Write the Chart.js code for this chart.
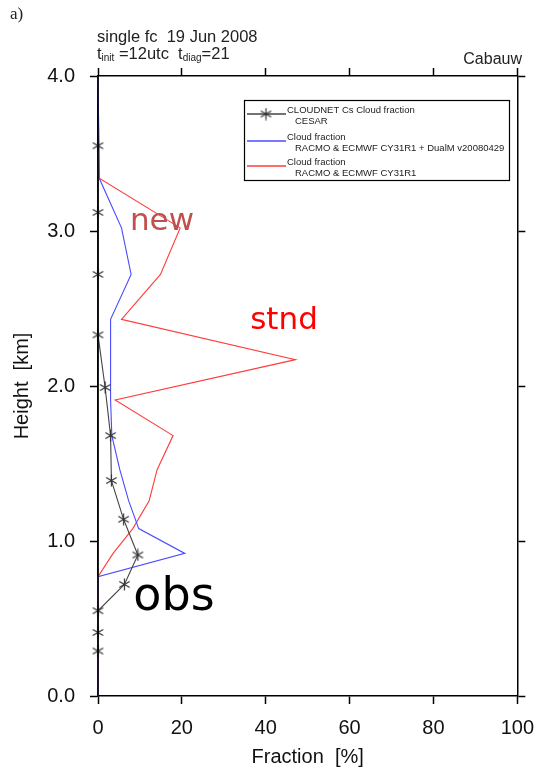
<!DOCTYPE html>
<html>
<head>
<meta charset="utf-8">
<script src="https://cdn.jsdelivr.net/npm/chart.js@4"></script>
<style>
  body { margin: 0; background: #fff; }
  canvas { display: block; }
</style>
</head>
<body>
<canvas id="cloudChart" width="546" height="772"></canvas>
<script>
// Observed cloud fraction (CLOUDNET, Cabauw)
const obsHeight = [0.29, 0.41, 0.55, 0.72, 0.91, 1.14, 1.39, 1.68, 1.99, 2.33, 2.72, 3.12, 3.55];
const obsFraction = [0, 0, 0, 6.3, 9.5, 6.1, 3.2, 3.0, 1.7, 0, 0, 0, 0];

// Model levels used by both RACMO runs
const modelHeight = [0, 0.77, 0.92, 1.08, 1.26, 1.46, 1.68, 1.91, 2.17, 2.43, 2.72, 3.02, 3.34, 4.0];
const newFraction = [0, 0, 20.7, 9.7, 7.3, 5.2, 3.3, 3.0, 3.0, 3.0, 7.9, 5.6, 0.3, 0];
const stndFraction = [0, 0, 3.6, 8.3, 12.2, 14.1, 17.9, 4.1, 47.1, 5.6, 14.9, 19.6, 0.3, 0];

const xTicks = [0, 20, 40, 60, 80, 100];
const yTicks = [0, 1, 2, 3, 4];

const legendLines = [
    ['CLOUDNET Cs Cloud fraction', 'CESAR'],
    ['Cloud fraction', 'RACMO & ECMWF CY31R1 + DualM v20080429'],
    ['Cloud fraction', 'RACMO & ECMWF CY31R1']
];

function toPoints(xs, ys) {
    return xs.map((x, i) => ({ x: x, y: ys[i] }));
}

// asterisk marker, vertical arm plus two diagonals
function makeStar(color) {
    const c = document.createElement('canvas');
    c.width = 13;
    c.height = 13;
    const g = c.getContext('2d');
    g.strokeStyle = color;
    g.lineWidth = 1.2;
    g.beginPath();
    g.moveTo(6.5, 0.5); g.lineTo(6.5, 12.5);
    g.moveTo(1.3, 3.5); g.lineTo(11.7, 9.5);
    g.moveTo(11.7, 3.5); g.lineTo(1.3, 9.5);
    g.stroke();
    return c;
}
const starMarker = makeStar('#333');

const sansFont = '"Liberation Sans", Arial, Helvetica, sans-serif';

const textPlugin = {
    id: 'textPlugin',
    afterDatasetsDraw(chart) {
        // keep the left axis black over the lines that sit on x = 0
        const a = chart.chartArea;
        const c = chart.ctx;
        c.save();
        c.strokeStyle = '#000';
        c.lineWidth = 1.5;
        c.beginPath();
        c.moveTo(a.left, a.top);
        c.lineTo(a.left, a.bottom);
        c.stroke();
        c.restore();
    },
    afterDraw(chart) {
        const ctx = chart.ctx;
        const ds = chart.data.datasets;
        ctx.save();

        // panel label
        ctx.fillStyle = '#222';
        ctx.textBaseline = 'middle';
        ctx.textAlign = 'left';
        ctx.font = '17px "Liberation Serif", "DejaVu Serif", serif';
        ctx.fillText('a)', 10, 15);

        // header
        ctx.font = '16.5px ' + sansFont;
        ctx.fillText('single fc  19 Jun 2008', 97, 37);

        let x = 97;
        const parts = [
            ['t', 16.5, 0], ['init', 10, 4], [' =12utc  ', 16.5, 0],
            ['t', 16.5, 0], ['diag', 10, 4], ['=21', 16.5, 0]
        ];
        parts.forEach(p => {
            ctx.font = p[1] + 'px ' + sansFont;
            ctx.fillText(p[0], x, 54 + p[2]);
            x += ctx.measureText(p[0]).width;
        });

        ctx.textAlign = 'right';
        ctx.font = '16px ' + sansFont;
        ctx.fillText('Cabauw', 522, 60);

        // legend box
        ctx.strokeStyle = '#000';
        ctx.lineWidth = 1.2;
        ctx.strokeRect(244.5, 100.5, 265, 80);
        const rowY = [114, 141, 166];
        ctx.textAlign = 'left';
        ctx.font = '9.5px ' + sansFont;
        rowY.forEach((y, i) => {
            const d = ds[i];
            ctx.strokeStyle = d.borderColor;
            ctx.lineWidth = 1.3;
            ctx.beginPath();
            ctx.moveTo(247, y);
            ctx.lineTo(286, y);
            ctx.stroke();
            if (d.pointStyle instanceof HTMLCanvasElement) {
                ctx.drawImage(d.pointStyle, 266 - 6.5, y - 6.5);
            }
            ctx.fillStyle = '#222';
            ctx.fillText(legendLines[i][0], 287, y - 4);
            ctx.fillText(legendLines[i][1], 295, y + 7);
        });

        // annotations
        ctx.textAlign = 'center';
        ctx.font = '31px "DejaVu Sans", Verdana, sans-serif';
        ctx.fillStyle = 'rgb(192, 80, 77)';
        ctx.fillText('new', 162, 222);
        ctx.fillStyle = '#ff0000';
        ctx.fillText('stnd', 284, 321);
        ctx.font = '46px "DejaVu Sans", Verdana, sans-serif';
        ctx.fillStyle = '#000';
        ctx.fillText('obs', 174, 598);

        ctx.restore();
    }
};

function axisGrid() {
    return {
        drawOnChartArea: false,
        drawTicks: true,
        tickLength: 8,
        tickWidth: 1.5,
        tickColor: '#000',
        color: '#000'
    };
}
const axisBorder = { display: true, color: '#000', width: 1.5 };

const ctx = document.getElementById('cloudChart').getContext('2d');
new Chart(ctx, {
    type: 'scatter',
    data: {
        datasets: [
            {
                label: 'CLOUDNET Cs Cloud fraction',
                data: toPoints(obsFraction, obsHeight),
                showLine: true,
                borderColor: '#444',
                borderWidth: 1.1,
                pointStyle: starMarker,
                pointRadius: 6,
                clip: false
            },
            {
                label: 'new',
                data: toPoints(newFraction, modelHeight),
                showLine: true,
                borderColor: '#4a4aff',
                borderWidth: 1.1,
                pointRadius: 0,
                clip: false
            },
            {
                label: 'stnd',
                data: toPoints(stndFraction, modelHeight),
                showLine: true,
                borderColor: '#ff3b3b',
                borderWidth: 1.1,
                pointRadius: 0,
                clip: false
            }
        ]
    },
    options: {
        responsive: false,
        animation: false,
        layout: { padding: 0 },
        plugins: {
            legend: { display: false },
            tooltip: { enabled: false }
        },
        scales: {
            x: {
                type: 'linear',
                position: 'bottom',
                min: 0,
                max: 100,
                afterBuildTicks: s => { s.ticks = xTicks.map(v => ({ value: v })); },
                afterFit: s => { s.height = 76; },
                grid: axisGrid(),
                border: axisBorder,
                ticks: {
                    color: '#111',
                    padding: 12,
                    maxRotation: 0,
                    font: { family: sansFont, size: 20 }
                },
                title: {
                    display: true,
                    text: 'Fraction  [%]',
                    color: '#111',
                    padding: { top: 0, bottom: 3 },
                    font: { family: sansFont, size: 20 }
                }
            },
            x2: {
                type: 'linear',
                position: 'top',
                min: 0,
                max: 100,
                afterBuildTicks: s => { s.ticks = xTicks.map(v => ({ value: v })); },
                afterFit: s => { s.height = 76; },
                grid: axisGrid(),
                border: axisBorder,
                ticks: { display: false }
            },
            y: {
                type: 'linear',
                position: 'left',
                min: 0,
                max: 4,
                afterBuildTicks: s => { s.ticks = yTicks.map(v => ({ value: v })); },
                afterFit: s => { s.width = 98; },
                grid: axisGrid(),
                border: axisBorder,
                ticks: {
                    color: '#111',
                    padding: 15,
                    font: { family: sansFont, size: 20 },
                    callback: v => Number(v).toFixed(1)
                },
                title: {
                    display: true,
                    text: 'Height  [km]',
                    color: '#111',
                    padding: { top: 10, bottom: 0 },
                    font: { family: sansFont, size: 20 }
                }
            },
            y2: {
                type: 'linear',
                position: 'right',
                min: 0,
                max: 4,
                afterBuildTicks: s => { s.ticks = yTicks.map(v => ({ value: v })); },
                afterFit: s => { s.width = 22; },
                grid: axisGrid(),
                border: axisBorder,
                ticks: { display: false }
            }
        }
    },
    plugins: [textPlugin]
});
</script>
</body>
</html>
